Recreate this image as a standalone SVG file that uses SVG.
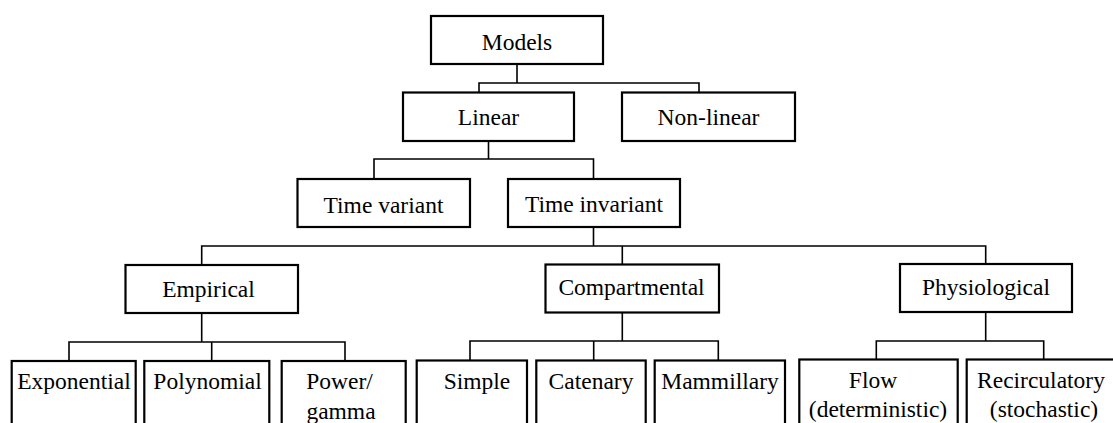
<svg xmlns="http://www.w3.org/2000/svg" width="1113" height="423" viewBox="0 0 1113 423">
<style>
.box{fill:#fff;stroke:#000;stroke-width:2.2}
.lbl{font-family:'Liberation Serif','Times New Roman','DejaVu Serif',serif;font-size:23.5px;fill:#000;text-anchor:middle}
.con{fill:none;stroke:#000;stroke-width:1.6}
</style>
<rect width="1113" height="423" fill="#fff"/>
<g id="connectors">
<path class="con" d="M517 64V83M479 92.5V83H699V92.5"/>
<path class="con" d="M488.5 141V159M374 179V159H593.5V179"/>
<path class="con" d="M593.5 227V246M201.7 265V246H985.7V264M622.3 246V264.5"/>
<path class="con" d="M201.7 313V342M69 360.5V342H345V360.5M211.7 342V360.5"/>
<path class="con" d="M622.3 312.5V341M470 360V341H718.3V360M593.7 341V360"/>
<path class="con" d="M985.7 312V341M876.3 359V341H1043.7V359"/>
</g>
<g font-family="Liberation Serif, Times New Roman, serif">
<g id="models"><rect class="box" x="431" y="16" width="172" height="48"/><text class="lbl" x="517" y="50">Models</text></g>
<g id="linear"><rect class="box" x="403" y="92.5" width="171" height="48.5"/><text class="lbl" x="488.5" y="125">Linear</text></g>
<g id="nonlinear"><rect class="box" x="622" y="92.5" width="173" height="48.5"/><text class="lbl" x="708.5" y="125">Non-linear</text></g>
<g id="timevariant"><rect class="box" x="297.5" y="179" width="172.5" height="48"/><text class="lbl" x="383.5" y="212.5">Time variant</text></g>
<g id="timeinvariant"><rect class="box" x="508" y="179" width="172" height="48"/><text class="lbl" x="594" y="212">Time invariant</text></g>
<g id="empirical"><rect class="box" x="125.5" y="265" width="172.5" height="48"/><text class="lbl" x="208.5" y="296.5">Empirical</text></g>
<g id="compartmental"><rect class="box" x="545.5" y="264.5" width="173.5" height="48"/><text class="lbl" x="631.5" y="294.5">Compartmental</text></g>
<g id="physiological"><rect class="box" x="900" y="264" width="172" height="48"/><text class="lbl" x="986" y="295">Physiological</text></g>
<g id="exponential"><rect class="box" x="11.7" y="361" width="124" height="80"/><text class="lbl" x="74" y="388.5">Exponential</text></g>
<g id="polynomial"><rect class="box" x="144.3" y="361" width="125" height="80"/><text class="lbl" x="207.5" y="388.5">Polynomial</text></g>
<g id="powergamma"><rect class="box" x="281.7" y="361" width="124" height="80"/><text class="lbl" x="339.5" y="389">Power/</text><text class="lbl" x="341" y="419">gamma</text></g>
<g id="simple"><rect class="box" x="416.7" y="360.5" width="110.3" height="80"/><text class="lbl" x="477" y="388.5">Simple</text></g>
<g id="catenary"><rect class="box" x="536.3" y="360.5" width="109.4" height="80"/><text class="lbl" x="591" y="388.5">Catenary</text></g>
<g id="mammillary"><rect class="box" x="654.7" y="360.5" width="130.3" height="80"/><text class="lbl" x="720" y="388.5">Mammillary</text></g>
<g id="flow"><rect class="box" x="799.3" y="359.5" width="158.4" height="80"/><text class="lbl" x="873" y="388">Flow</text><text class="lbl" x="878" y="417">(deterministic)</text></g>
<g id="recirculatory"><rect class="box" x="966.7" y="359.5" width="160" height="80"/><text class="lbl" x="1041" y="388">Recirculatory</text><text class="lbl" x="1044" y="417">(stochastic)</text></g>
</g>
</svg>
